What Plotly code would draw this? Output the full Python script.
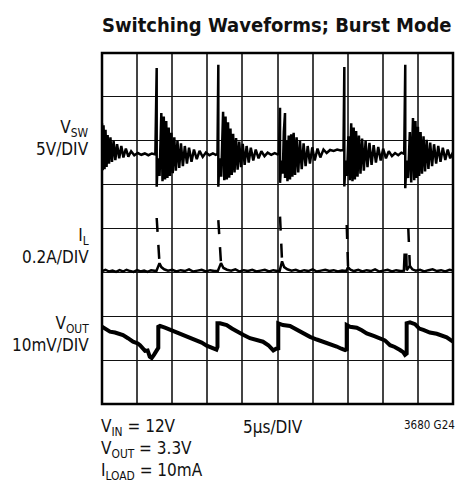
import plotly.graph_objects as go

# ---- data (time in µs, amplitude in scope divisions) ----
vsw_t = [0.00, 0.10, 0.22, 0.36, 0.50, 0.65, 0.80, 1.00, 1.20, 1.42, 1.65, 1.90, 2.15, 2.45, 2.75, 3.05, 3.40, 3.75, 4.15, 4.60, 5.10, 5.60, 6.10, 6.60, 7.10, 7.60,
         7.79, 7.79, 7.95, 8.20, 8.45, 8.62, 8.80, 8.98, 9.15, 9.32, 9.50, 9.68, 9.88, 10.08, 10.30, 10.52, 10.75, 11.00, 11.25, 11.52, 11.80, 12.10, 12.40, 12.75, 13.10, 13.50, 13.90, 14.35, 14.80, 15.30, 15.80, 16.20, 16.45,
         16.57, 16.57, 16.73, 16.98, 17.25, 17.42, 17.60, 17.78, 17.95, 18.12, 18.30, 18.48, 18.68, 18.88, 19.10, 19.32, 19.55, 19.80, 20.05, 20.32, 20.60, 20.90, 21.20, 21.55, 21.90, 22.30, 22.70, 23.15, 23.60, 24.10, 24.60, 25.00, 25.20,
         25.36, 25.36, 25.55, 25.75, 25.90, 26.07, 26.07, 26.25, 26.42, 26.60, 26.78, 26.95, 27.12, 27.30, 27.50, 27.72, 27.95, 28.20, 28.45, 28.72, 29.00, 29.30, 29.62, 29.95, 30.30, 30.70, 31.10, 31.55, 32.00, 32.50, 33.00, 33.50, 34.00, 34.40,
         34.52, 34.52, 34.70, 34.90, 35.10, 35.30, 35.50, 35.68, 35.85, 36.02, 36.20, 36.40, 36.60, 36.82, 37.05, 37.30, 37.55, 37.82, 38.10, 38.40, 38.70, 39.02, 39.35, 39.70, 40.05, 40.45, 40.85, 41.30, 41.75, 42.20, 42.65, 43.05,
         43.20, 43.20, 43.38, 43.60, 43.85, 44.05, 44.30, 44.48, 44.65, 44.82, 45.00, 45.18, 45.38, 45.58, 45.80, 46.02, 46.25, 46.50, 46.75, 47.02, 47.30, 47.60, 47.90, 48.22, 48.55, 48.90, 49.25, 49.60, 50.00]
vsw_v = [6.40, 5.33, 6.35, 5.35, 6.25, 5.40, 6.13, 5.48, 6.08, 5.52, 6.00, 5.56, 5.92, 5.60, 5.88, 5.62, 5.82, 5.64, 5.76, 5.67, 5.72, 5.68, 5.71, 5.67, 5.71, 5.69,
         7.66, 4.95, 5.60, 5.20, 6.63, 5.08, 6.55, 5.12, 6.45, 5.15, 6.30, 5.20, 6.18, 5.26, 6.08, 5.32, 6.00, 5.38, 5.94, 5.42, 5.88, 5.48, 5.84, 5.52, 5.80, 5.58, 5.77, 5.63, 5.73, 5.67, 5.71, 5.68, 5.70,
         7.73, 4.95, 5.60, 5.18, 6.66, 5.10, 6.55, 5.12, 6.42, 5.16, 6.28, 5.22, 6.16, 5.28, 6.06, 5.34, 5.98, 5.40, 5.93, 5.45, 5.88, 5.50, 5.84, 5.55, 5.80, 5.60, 5.76, 5.65, 5.73, 5.68, 5.72, 5.69, 5.71,
         6.75, 5.04, 5.55, 5.25, 6.20, 6.63, 5.15, 6.00, 5.08, 6.12, 5.12, 6.15, 5.18, 6.18, 5.22, 6.08, 5.28, 6.00, 5.35, 5.94, 5.42, 5.88, 5.48, 5.85, 5.55, 5.82, 5.62, 5.80, 5.72, 5.79, 5.77, 5.80, 5.78, 5.79,
         7.68, 4.96, 5.55, 5.20, 6.10, 5.10, 6.40, 5.08, 6.30, 5.12, 6.22, 5.18, 6.12, 5.25, 6.05, 5.32, 6.00, 5.40, 5.95, 5.45, 5.90, 5.50, 5.86, 5.55, 5.82, 5.60, 5.76, 5.65, 5.72, 5.67, 5.73, 5.70,
         7.73, 4.92, 5.55, 5.15, 6.20, 5.05, 6.52, 5.10, 6.45, 5.15, 6.32, 5.20, 6.20, 5.25, 6.10, 5.30, 6.02, 5.36, 5.96, 5.42, 5.92, 5.48, 5.88, 5.52, 5.84, 5.56, 5.80, 5.60, 5.74]

il_t = [0.0, 0.5, 1.0, 1.5, 2.0, 2.5, 3.0, 3.5, 4.0, 4.5, 5.0, 5.5, 6.0, 6.5, 7.0, 7.5, 7.75,
        8.19, 8.45, 8.85, 9.4, 10.0, 10.6, 11.2, 11.8, 12.4, 13.0, 13.6, 14.2, 14.8, 15.4, 16.0, 16.5,
        16.95, 17.3, 17.8, 18.4, 19.0, 19.6, 20.2, 20.8, 21.4, 22.0, 22.6, 23.2, 23.8, 24.4, 25.0, 25.3,
        25.65, 25.95, 26.4, 27.0, 27.6, 28.2, 28.8, 29.4, 30.0, 30.6, 31.2, 31.8, 32.4, 33.0, 33.6, 34.2, 34.8,
        35.05, 35.4, 35.9, 36.5, 37.1, 37.7, 38.3, 38.9, 39.5, 40.1, 40.7, 41.3, 41.9, 42.5, 43.0, 43.10, 43.35, 43.40,
        43.85, 44.2, 44.7, 45.3, 45.9, 46.5, 47.1, 47.7, 48.3, 48.9, 49.5, 50.0]
il_v = [3.03, 3.06, 3.02, 3.04, 3.01, 3.05, 3.02, 3.06, 3.03, 3.01, 3.05, 3.02, 3.04, 3.01, 3.05, 3.03, 3.03,
        3.21, 3.12, 3.07, 3.04, 3.06, 3.02, 3.05, 3.03, 3.07, 3.02, 3.04, 3.06, 3.02, 3.05, 3.03, 3.03,
        3.21, 3.10, 3.06, 3.04, 3.07, 3.02, 3.05, 3.03, 3.06, 3.02, 3.04, 3.06, 3.02, 3.05, 3.03, 3.03,
        3.25, 3.12, 3.07, 3.04, 3.06, 3.02, 3.05, 3.03, 3.07, 3.02, 3.04, 3.06, 3.03, 3.05, 3.02, 3.04, 3.03,
        3.12, 3.06, 3.03, 3.06, 3.02, 3.05, 3.03, 3.07, 3.02, 3.04, 3.06, 3.02, 3.05, 3.03, 3.04, 3.40, 3.40, 3.05,
        3.15, 3.07, 3.04, 3.06, 3.02, 3.05, 3.07, 3.03, 3.05, 3.02, 3.06, 3.04]

il_spike_t = [7.79, 8.19, None, 16.57, 16.95, None, 25.36, 25.65, None, 34.86, 35.05, None, 43.63, 43.85]
il_spike_v = [4.24, 3.21, None, 4.19, 3.21, None, 4.27, 3.25, None, 4.08, 3.12, None, 4.01, 3.15]

vout_t = [0.00, 0.57, 1.14, 1.85, 2.99, 3.70, 4.42, 5.10, 5.41, 6.13, 6.50, 6.80, 7.08, 7.40, 7.75, 8.02,
          8.02, 8.26, 8.97, 9.60, 10.16, 11.10, 12.07, 12.80, 13.49, 14.20, 14.91, 15.50, 16.10, 16.30, 16.45,
          16.45, 16.81, 17.76, 18.50, 19.19, 20.10, 21.08, 22.00, 22.93, 23.70, 24.00, 24.40, 24.80, 25.11,
          25.11, 25.78, 26.78, 27.73, 28.70, 29.63, 30.60, 31.52, 32.50, 33.43, 34.10, 34.62, 34.86,
          34.86, 35.33, 36.28, 37.00, 37.71, 38.70, 39.60, 40.30, 41.03, 41.70, 42.45, 42.90, 43.16, 43.40,
          43.40, 43.87, 44.59, 45.20, 45.77, 46.70, 47.68, 48.40, 49.10, 50.00]
vout_v = [1.76, 1.70, 1.65, 1.63, 1.57, 1.50, 1.42, 1.38, 1.34, 1.21, 1.22, 1.08, 1.05, 1.12, 1.20, 1.28,
          1.76, 1.78, 1.74, 1.70, 1.65, 1.60, 1.55, 1.50, 1.44, 1.40, 1.33, 1.30, 1.27, 1.24, 1.30,
          1.84, 1.84, 1.80, 1.72, 1.65, 1.58, 1.50, 1.46, 1.42, 1.34, 1.30, 1.22, 1.26, 1.27,
          1.84, 1.80, 1.78, 1.69, 1.60, 1.53, 1.47, 1.42, 1.38, 1.31, 1.26, 1.23, 1.25,
          1.80, 1.76, 1.74, 1.68, 1.61, 1.55, 1.50, 1.45, 1.34, 1.30, 1.23, 1.18, 1.12, 1.15,
          1.84, 1.86, 1.82, 1.72, 1.69, 1.63, 1.60, 1.55, 1.52, 1.42]

channel_labels = [("V<sub>SW</sub><br>5V/DIV", 0.758),
                  ("I<sub>L</sub><br>0.2A/DIV", 0.450),
                  ("V<sub>OUT</sub><br>10mV/DIV", 0.199)]
cond_label = "V<sub>IN</sub> = 12V<br>V<sub>OUT</sub> = 3.3V<br>I<sub>LOAD</sub> = 10mA"
title_text = "Switching Waveforms; Burst Mode"
timebase = "5µs/DIV"
fig_id = "3680 G24"

FONT = "DejaVu Sans Condensed, DejaVu Sans, sans-serif"

fig = go.Figure()
fig.add_trace(go.Scatter(x=vsw_t, y=vsw_v, mode="lines", line=dict(color="black", width=2.5), hoverinfo="skip"))
fig.add_trace(go.Scatter(x=il_t, y=il_v, mode="lines", line=dict(color="black", width=2.5), hoverinfo="skip"))
fig.add_trace(go.Scatter(x=il_spike_t, y=il_spike_v, mode="lines", connectgaps=False,
                         line=dict(color="black", width=2.5, dash="14px,13px"), hoverinfo="skip"))
fig.add_trace(go.Scatter(x=vout_t, y=vout_v, mode="lines", line=dict(color="black", width=4), hoverinfo="skip"))

annotations = []
for txt, yy in channel_labels:
    annotations.append(dict(text=txt, xref="paper", yref="paper", x=-0.030, y=yy, xanchor="right",
                            yanchor="middle", align="right", showarrow=False,
                            font=dict(family=FONT, size=17, color="#111")))
annotations.append(dict(text=cond_label, xref="paper", yref="paper", x=-0.008, y=-0.131, xanchor="left",
                        yanchor="middle", align="left", showarrow=False,
                        font=dict(family=FONT, size=17, color="#111")))
annotations.append(dict(text=timebase, xref="paper", yref="paper", x=0.395, y=-0.0655, xanchor="left",
                        yanchor="middle", showarrow=False, font=dict(family=FONT, size=17, color="#111")))
annotations.append(dict(text=fig_id, xref="paper", yref="paper", x=1.012, y=-0.061, xanchor="right",
                        yanchor="middle", showarrow=False, font=dict(family=FONT, size=11.5, color="#111")))
annotations.append(dict(text="<b>" + title_text + "</b>", xref="paper", yref="paper", x=0.497, y=1.080,
                        xanchor="center", yanchor="middle", showarrow=False,
                        font=dict(family=FONT, size=20, color="#111")))

fig.update_layout(
    width=469, height=483,
    margin=dict(l=102, r=16, t=53, b=79),
    paper_bgcolor="white", plot_bgcolor="white",
    showlegend=False,
    annotations=annotations,
    xaxis=dict(range=[0, 50], dtick=5, tick0=0, showgrid=True, gridcolor="#444", gridwidth=1.5,
               zeroline=False, showticklabels=False, ticks="", showline=False, fixedrange=True),
    yaxis=dict(range=[0, 8], dtick=1, tick0=0, showgrid=True, gridcolor="#111", gridwidth=1.3,
               zeroline=False, showticklabels=False, ticks="", showline=False, fixedrange=True),
    shapes=[dict(type="rect", xref="paper", yref="paper", x0=0, y0=0, x1=1, y1=1,
                 line=dict(color="black", width=2.5))],
)

fig.write_html("out.html", config={"displayModeBar": False},
               post_script="document.body.style.margin='0';document.body.style.overflow='hidden';")
